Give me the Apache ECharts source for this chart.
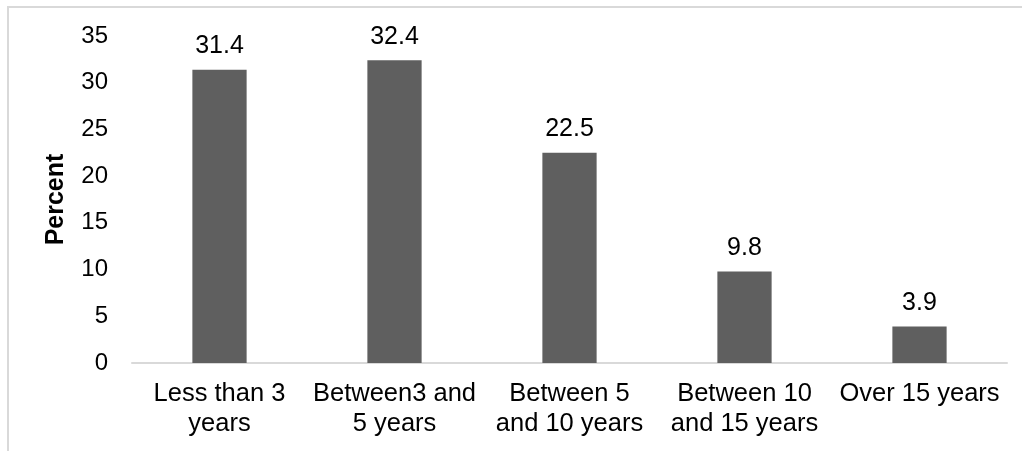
<!DOCTYPE html>
<html>
<head>
<meta charset="utf-8">
<style>
  html, body { margin: 0; padding: 0; background: #fff; }
  #chart { width: 1022px; height: 451px; }
</style>
<script src="https://cdn.jsdelivr.net/npm/echarts@6/dist/echarts.min.js"></script>
</head>
<body>
<div id="chart"></div>
<script>
// Years of experience distribution (percent of respondents)
const categories = [
  'Less than 3\nyears',
  'Between3 and\n5 years',
  'Between 5\nand 10 years',
  'Between 10\nand 15 years',
  'Over 15 years'
];
const percentValues = [31.4, 32.4, 22.5, 9.8, 3.9];
const yTicks = { min: 0, max: 35, interval: 5 };

const FONT = '"Liberation Sans", Arial, sans-serif';
const chart = echarts.init(document.getElementById('chart'), null, { renderer: 'canvas' });

chart.setOption({
  animation: false,
  backgroundColor: '#ffffff',
  grid: { left: 132, right: 15, top: 36, bottom: 88, containLabel: false },
  graphic: [
    {
      type: 'polyline',
      silent: true,
      shape: { points: [[8, 451], [8, 7], [1022, 7]] },
      style: { stroke: '#d9d9d9', lineWidth: 2, fill: null }
    }
  ],
  xAxis: {
    type: 'category',
    data: categories,
    axisLine: { show: true, lineStyle: { color: '#d9d9d9', width: 2 } },
    axisTick: { show: false },
    axisLabel: {
      color: '#000',
      fontFamily: FONT,
      fontSize: 25.5,
      lineHeight: 30,
      margin: 16,
      interval: 0
    }
  },
  yAxis: {
    type: 'value',
    min: yTicks.min,
    max: yTicks.max,
    interval: yTicks.interval,
    name: 'Percent',
    nameLocation: 'middle',
    nameGap: 63,
    nameRotate: 90,
    nameTextStyle: { color: '#000', fontFamily: FONT, fontSize: 25, fontWeight: 'bold' },
    axisLine: { show: false },
    axisTick: { show: false },
    splitLine: { show: false },
    axisLabel: { color: '#000', fontFamily: FONT, fontSize: 24, margin: 24 }
  },
  series: [
    {
      type: 'bar',
      data: percentValues,
      barWidth: '31%',
      itemStyle: { color: '#5f5f5f' },
      label: {
        show: true,
        position: 'top',
        distance: 11,
        color: '#000',
        fontFamily: FONT,
        fontSize: 25,
        formatter: p => p.value.toFixed(1)
      }
    }
  ]
});
</script>
</body>
</html>
